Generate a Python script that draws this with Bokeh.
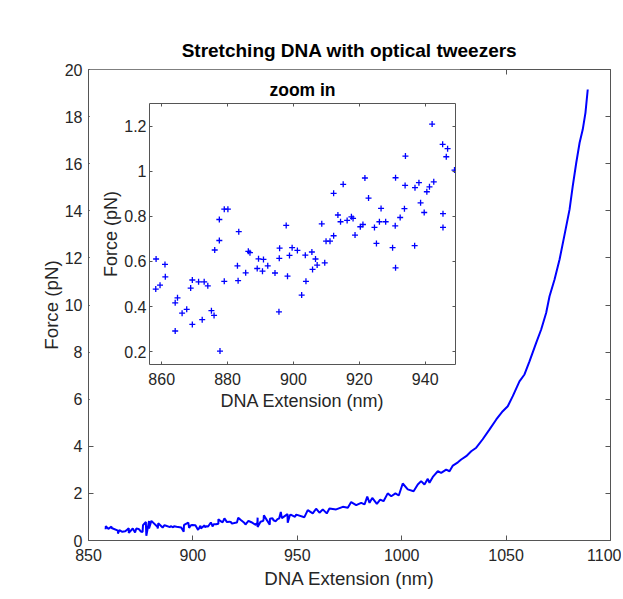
import numpy as np
from bokeh.plotting import figure
from bokeh.models import LinearAxis, FixedTicker, GridBox, Range1d
from bokeh.embed import file_html
from bokeh.resources import INLINE

# ---------------- data ----------------
# zoomed-in measurements (inset scatter, also first part of main trace)
zoom_ext = [858.3, 858.2, 859.5, 861.0, 861.1, 864.1, 864.8, 864.1, 866.2, 867.6,
            868.8, 869.3, 869.3, 871.2, 872.3, 872.9, 874.0, 875.1, 875.9, 876.1,
            877.5, 877.5, 877.7, 879.0, 880.1, 879.0, 883.0, 883.2, 883.4, 885.5,
            886.3, 886.8, 889.0, 889.4, 890.6, 890.9, 892.2, 894.4, 895.6, 895.7,
            895.8, 897.8, 898.2, 898.8, 899.6, 901.2, 902.5, 903.6, 903.8, 905.6,
            905.8, 906.7, 907.2, 908.6, 909.5, 909.9, 911.1, 912.2, 912.2, 913.5,
            914.3, 915.1, 916.3, 917.6, 918.1, 918.7, 920.3, 921.1, 921.7, 922.8,
            924.6, 925.2, 926.1, 926.6, 928.0, 930.1, 930.9, 931.0, 931.0, 932.4,
            933.7, 933.9, 934.0, 936.8, 936.9, 938.1, 938.6, 939.7, 940.5, 941.3,
            942.1, 942.6, 945.3, 945.4, 945.4, 946.4, 946.8, 948.9]
zoom_force = [0.611, 0.478, 0.495, 0.587, 0.532, 0.417, 0.439, 0.292, 0.371, 0.388,
              0.482, 0.518, 0.321, 0.510, 0.342, 0.510, 0.492, 0.382, 0.361, 0.651,
              0.786, 0.693, 0.203, 0.832, 0.832, 0.512, 0.581, 0.515, 0.732, 0.550,
              0.645, 0.639, 0.569, 0.612, 0.557, 0.609, 0.581, 0.549, 0.377, 0.614,
              0.659, 0.760, 0.535, 0.627, 0.661, 0.649, 0.451, 0.628, 0.512, 0.642,
              0.565, 0.611, 0.584, 0.767, 0.594, 0.690, 0.690, 0.714, 0.902, 0.806,
              0.776, 0.942, 0.782, 0.798, 0.791, 0.717, 0.754, 0.764, 0.970, 0.881,
              0.751, 0.680, 0.776, 0.835, 0.776, 0.661, 0.758, 0.971, 0.572, 0.795,
              0.834, 0.937, 1.067, 0.670, 0.927, 0.949, 0.860, 0.817, 0.909, 0.931,
              1.209, 0.953, 1.119, 0.812, 0.751, 1.064, 1.100, 1.005]

# remaining part of the stretching curve
tail_ext = [949.5, 953.4, 955.0, 957.4, 959.0, 960.6, 962.2, 964.1, 965.4, 968.6,
            971.8, 974.2, 975.8, 978.2, 980.6, 982.2, 983.5, 984.6, 985.9, 988.1,
            989.7, 991.3, 993.3, 995.0, 997.0, 998.6, 1000.5, 1002.9, 1005.7, 1007.7,
            1009.3, 1010.9, 1012.5, 1013.3, 1014.9, 1017.3, 1018.9, 1021.3, 1022.9, 1024.5,
            1026.9, 1028.5, 1030.9, 1033.3, 1035.7, 1038.8, 1042.0, 1045.3, 1048.4, 1050.8,
            1053.2, 1056.4, 1058.8, 1061.2, 1064.4, 1066.8, 1069.2, 1070.8, 1073.2, 1075.6,
            1078.0, 1080.4, 1081.9, 1083.6, 1085.2, 1086.7, 1088.0, 1089.1]
tail_force = [1.10, 0.99, 1.29, 1.15, 1.35, 1.18, 1.32, 1.15, 1.36, 1.32,
              1.43, 1.39, 1.63, 1.50, 1.60, 1.53, 1.86, 1.60, 1.81, 1.56,
              1.74, 1.67, 2.00, 1.88, 2.00, 1.91, 2.42, 2.17, 2.09, 2.38,
              2.52, 2.38, 2.62, 2.45, 2.70, 2.94, 2.87, 3.01, 2.94, 3.18,
              3.32, 3.44, 3.58, 3.79, 3.94, 4.30, 4.71, 5.14, 5.49, 5.70,
              6.13, 6.76, 7.05, 7.61, 8.39, 8.96, 9.67, 10.37, 11.08, 11.93,
              12.99, 14.06, 15.04, 16.04, 16.89, 17.45, 18.16, 19.15]

main_xticks = [850, 900, 950, 1000, 1050, 1100]
main_yticks = [0, 2, 4, 6, 8, 10, 12, 14, 16, 18, 20]
inset_xticks = [860, 880, 900, 920, 940]
inset_yticks = [0.2, 0.4, 0.6, 0.8, 1.0, 1.2]

# ---------------- style ----------------
FONT = "Liberation Sans"
TXT = "#262626"
AXL = "#555555"
BLUE = "#0000ff"


def style_axis(ax, ticks, tick_in, label_px="16px", show=True, axis_label=None,
               axis_label_px="18px", standoff=6, label_standoff=4):
    ax.ticker = FixedTicker(ticks=ticks)
    ax.major_tick_in = tick_in
    ax.major_tick_out = 0
    ax.major_tick_line_color = AXL
    ax.major_tick_line_width = 1
    ax.minor_tick_line_color = None
    ax.axis_line_color = None
    if show:
        ax.major_label_text_font = FONT
        ax.major_label_text_font_size = label_px
        ax.major_label_text_color = TXT
        ax.major_label_standoff = standoff
        if axis_label:
            ax.axis_label = axis_label
            ax.axis_label_text_font = FONT
            ax.axis_label_text_font_size = axis_label_px
            ax.axis_label_text_font_style = "normal"
            ax.axis_label_text_color = TXT
            ax.axis_label_standoff = label_standoff
    else:
        # tick-only axis (box ticks on top / right): labels not drawn
        ax.major_label_text_font_size = "1px"
        ax.major_label_text_color = None
        ax.major_label_standoff = standoff
        ax.axis_label = None


def make_fig(title, xr, yr, fw, fh, borders, title_px, title_standoff):
    f = figure(frame_width=fw, frame_height=fh, x_range=Range1d(*xr), y_range=Range1d(*yr),
               output_backend="svg", toolbar_location=None, title=title,
               min_border_left=borders[0], min_border_right=borders[1],
               min_border_top=borders[2], min_border_bottom=borders[3])
    f.title.align = "center"
    f.title.text_font = FONT
    f.title.text_font_size = title_px
    f.title.text_font_style = "bold"
    f.title.text_color = "#000000"
    f.title.standoff = title_standoff
    f.outline_line_color = AXL
    f.outline_line_width = 1
    f.outline_line_alpha = 1.0
    f.background_fill_color = "white"
    f.border_fill_color = "white"
    f.xgrid.visible = False
    f.ygrid.visible = False
    return f


# ---------------- main plot ----------------
p = make_fig("Stretching DNA with optical tweezers", (850, 1100), (0, 20), 522, 471,
             (88, 11, 69, 52), "19px", 17)
style_axis(p.xaxis[0], main_xticks, 5, axis_label="DNA Extension (nm)",
           axis_label_px="18.7px", standoff=8, label_standoff=4)
style_axis(p.yaxis[0], main_yticks, 5, axis_label="Force (pN)",
           axis_label_px="18.7px", standoff=6, label_standoff=0)
top = LinearAxis()
style_axis(top, main_xticks, 5, show=False, standoff=3)
p.add_layout(top, "above")
right = LinearAxis()
style_axis(right, main_yticks, 5, show=False, standoff=0)
p.add_layout(right, "right")

order = np.argsort(np.array(zoom_ext), kind="stable")
main_x = list(np.array(zoom_ext)[order]) + tail_ext
main_y = list(np.array(zoom_force)[order]) + tail_force
p.line(main_x, main_y, line_color=BLUE, line_width=2)

# ---------------- inset ----------------
inset = make_fig("zoom in", (856.3, 949.2), (0.1436, 1.3), 306, 261,
                 (60, 5, 34, 50), "17.5px", 8)
style_axis(inset.xaxis[0], inset_xticks, 3, axis_label="DNA Extension (nm)",
           axis_label_px="18px", standoff=8, label_standoff=3)
style_axis(inset.yaxis[0], inset_yticks, 3, axis_label="Force (pN)",
           axis_label_px="18px", standoff=3, label_standoff=0)
inset.yaxis[0].major_label_overrides = {1.0: "1"}
itop = LinearAxis()
style_axis(itop, inset_xticks, 3, show=False, standoff=0)
inset.add_layout(itop, "above")
iright = LinearAxis()
style_axis(iright, inset_yticks, 3, show=False, standoff=0)
inset.add_layout(iright, "right")

inset.scatter(zoom_ext, zoom_force, marker="cross", size=6, line_color=BLUE, line_width=1.3)

# ---------------- overlay layout ----------------
grid = GridBox(children=[(p, 0, 0, 3, 3), (inset, 1, 1, 1, 1)],
               rows=["69px", "auto", "auto"], cols=["89px", "auto", "auto"])

open("out.html", "w").write(file_html(grid, INLINE))
